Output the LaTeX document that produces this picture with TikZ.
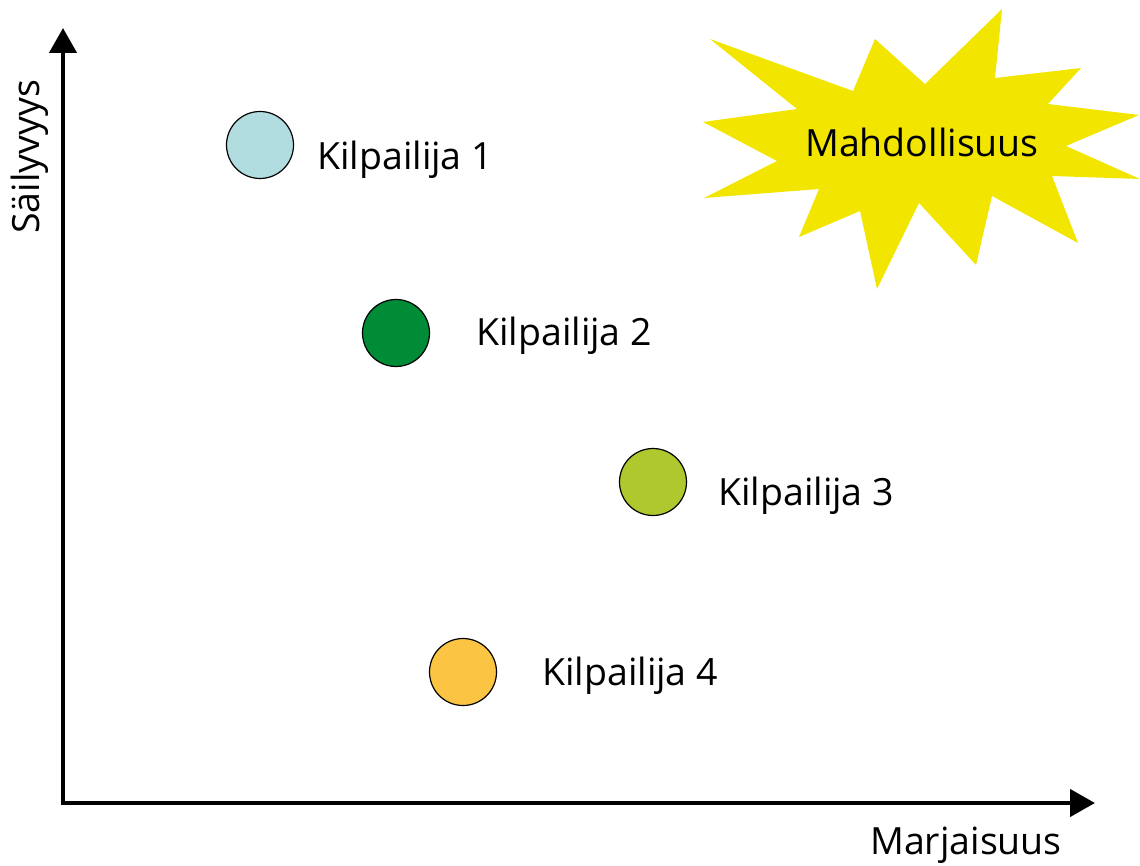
\documentclass[tikz,border=0pt]{standalone}
\usepackage{fontspec}
\setmainfont{Open Sans}
\usetikzlibrary{arrows.meta}
\definecolor{starfill}{HTML}{F2E600}
\definecolor{compA}{HTML}{B1DDE1}
\definecolor{compB}{HTML}{008C36}
\definecolor{compC}{HTML}{AEC82E}
\definecolor{compD}{HTML}{FBC543}
\tikzset{
  axis/.style={line width=4.5pt, -{Triangle[length=25pt,width=27pt]}},
  dot/.style={circle, draw=black, line width=1.2pt, minimum size=67pt, inner sep=0pt},
  lbl/.style={anchor=base west, inner sep=0pt, font=\fontsize{37.5}{42}\selectfont},
}
\begin{document}
\begin{tikzpicture}[x=1pt,y=-1pt]
\useasboundingbox (0,0) rectangle (1140,866);

% axes
\coordinate (origin) at (63,803);
\coordinate (ytip) at (63,28);
\coordinate (xtip) at (1095,803);
\draw[axis] (origin) -- (ytip);
\draw[axis] ([xshift=-2.25pt]origin) -- (xtip);

\node[lbl, rotate=90] (ylab) at (39,234) {Säilyvyys};
\node[lbl] (xlab) at (870,854) {Marjaisuus};

% opportunity burst
\fill[starfill] (710,39) -- (853,91) -- (875,39) -- (925,84) -- (1002,9)
  -- (995,78) -- (1081,68) -- (1048,104) -- (1139,115) -- (1066,146)
  -- (1140,179) -- (1052,176) -- (1078,243) -- (992,196) -- (976,265)
  -- (919,203) -- (877,289) -- (860,211) -- (799,237) -- (819,189)
  -- (704,198) -- (777,161) -- (703,122) -- (797,109) -- cycle;
\node[lbl] (chance) at (805,157) {Mahdollisuus};

% competitors
\node[dot, fill=compA] (c1) at (260,145) {};
\node[dot, fill=compB] (c2) at (396,333) {};
\node[dot, fill=compC] (c3) at (653,482) {};
\node[dot, fill=compD] (c4) at (463,672) {};

\node[lbl] (l1) at (317,170) {Kilpailija 1};
\node[lbl] (l2) at (476,345) {Kilpailija 2};
\node[lbl] (l3) at (718,505) {Kilpailija 3};
\node[lbl] (l4) at (542,685) {Kilpailija 4};
\end{tikzpicture}
\end{document}
